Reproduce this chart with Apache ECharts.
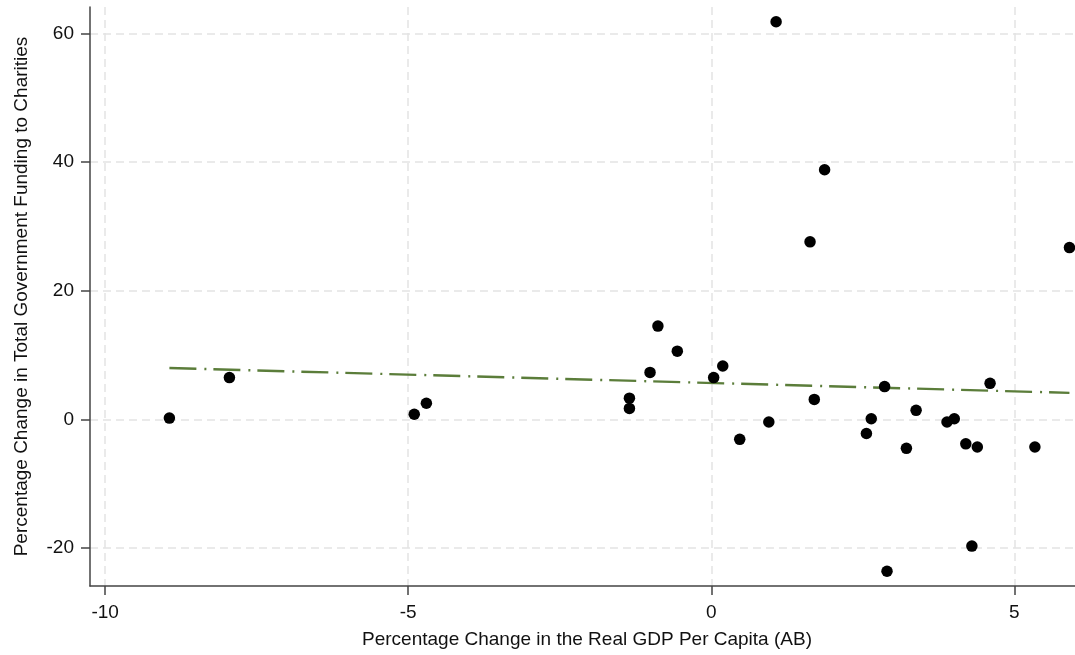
<!DOCTYPE html>
<html>
<head>
<meta charset="utf-8">
<title>Government Funding to Charities vs Real GDP Per Capita</title>
<script src="https://cdn.jsdelivr.net/npm/echarts@6/dist/echarts.min.js"></script>
<style>
  html, body { margin: 0; padding: 0; background: #ffffff; }
  #chart { width: 1075px; height: 655px; }
</style>
</head>
<body>
<div id="chart"></div>
<script>
// Annual observations: % change in real GDP per capita (AB) vs % change in total government funding to charities
const gdpChange = [
  -8.94, -7.95, -4.90, -4.70, -1.35, -1.35, -1.01, -0.88, -0.56, 0.04,
   0.19,  0.47,  0.95,  1.07,  1.63,  1.70,  1.87,  2.56,  2.64, 2.86,
   2.90,  3.22,  3.38,  3.89,  4.01,  4.20,  4.30,  4.39,  4.60, 5.34,
   5.91
];
const fundingChange = [
   0.2,   6.5,   0.8,   2.5,   3.3,   1.7,   7.3,  14.5,  10.6,  6.5,
   8.3,  -3.1,  -0.4,  61.8,  27.6,   3.1,  38.8,  -2.2,   0.1,  5.1,
 -23.6,  -4.5,   1.4,  -0.4,   0.1,  -3.8, -19.7,  -4.3,   5.6, -4.3,
  26.7
];

// Linear fit line endpoints (x at data extremes, fitted y)
const fitX = [-8.94, 5.91];
const fitY = [7.98, 4.12];

const xTicks = [-10, -5, 0, 5];
const yTicks = [-20, 0, 20, 40, 60];

const xTitle = 'Percentage Change in the Real GDP Per Capita (AB)';
const yTitle = 'Percentage Change in Total Government Funding to Charities';

const points = gdpChange.map((x, i) => [x, fundingChange[i]]);
const fitLine = fitX.map((x, i) => [x, fitY[i]]);

const FONT = '"Liberation Sans", Arial, sans-serif';
const TEXT = '#111111';
const AXIS = '#444444';
const GRID = '#e4e4e4';

const chart = echarts.init(document.getElementById('chart'), null, { renderer: 'canvas' });

chart.setOption({
  backgroundColor: '#ffffff',
  animation: false,
  grid: {
    left: 90, right: -9, top: 7, bottom: 69,
    containLabel: false,
    outerBoundsMode: 'none'
  },
  xAxis: {
    type: 'value',
    min: -10.25,
    max: 6.15,
    name: xTitle,
    nameLocation: 'middle',
    nameGap: 44,
    nameMoveOverlap: false,
    nameTextStyle: { fontFamily: FONT, fontSize: 19, color: TEXT },
    axisLine: { show: true, onZero: false, lineStyle: { color: AXIS, width: 1.5 } },
    axisTick: { show: true, length: 9, customValues: xTicks, lineStyle: { color: AXIS, width: 1.5 } },
    axisLabel: {
      customValues: xTicks, margin: 17,
      fontFamily: FONT, fontSize: 19, color: TEXT,
      showMinLabel: true, showMaxLabel: true
    },
    splitLine: { show: true, lineStyle: { color: GRID, width: 1.5, type: [8, 5] } }
  },
  yAxis: {
    type: 'value',
    min: -25.9,
    max: 64.1,
    name: yTitle,
    nameLocation: 'middle',
    nameGap: 59,
    nameRotate: 90,
    nameMoveOverlap: false,
    nameTextStyle: { fontFamily: FONT, fontSize: 19, color: TEXT },
    axisLine: { show: true, onZero: false, lineStyle: { color: AXIS, width: 1.5 } },
    axisTick: { show: true, length: 9, customValues: yTicks, lineStyle: { color: AXIS, width: 1.5 } },
    axisLabel: {
      customValues: yTicks, margin: 16,
      fontFamily: FONT, fontSize: 19, color: TEXT,
      showMinLabel: true, showMaxLabel: true
    },
    splitLine: { show: true, lineStyle: { color: GRID, width: 1.5, type: [8, 5] } }
  },
  series: [
    {
      name: 'Observations',
      type: 'scatter',
      data: points,
      symbol: 'circle',
      symbolSize: 11.5,
      itemStyle: { color: '#000000', opacity: 1 },
      z: 3
    },
    {
      name: 'Linear fit',
      type: 'line',
      data: fitLine,
      symbol: 'none',
      lineStyle: { color: '#5b7d3a', width: 2.4, type: [27, 8, 2, 7] },
      z: 2
    }
  ]
});
</script>
</body>
</html>
